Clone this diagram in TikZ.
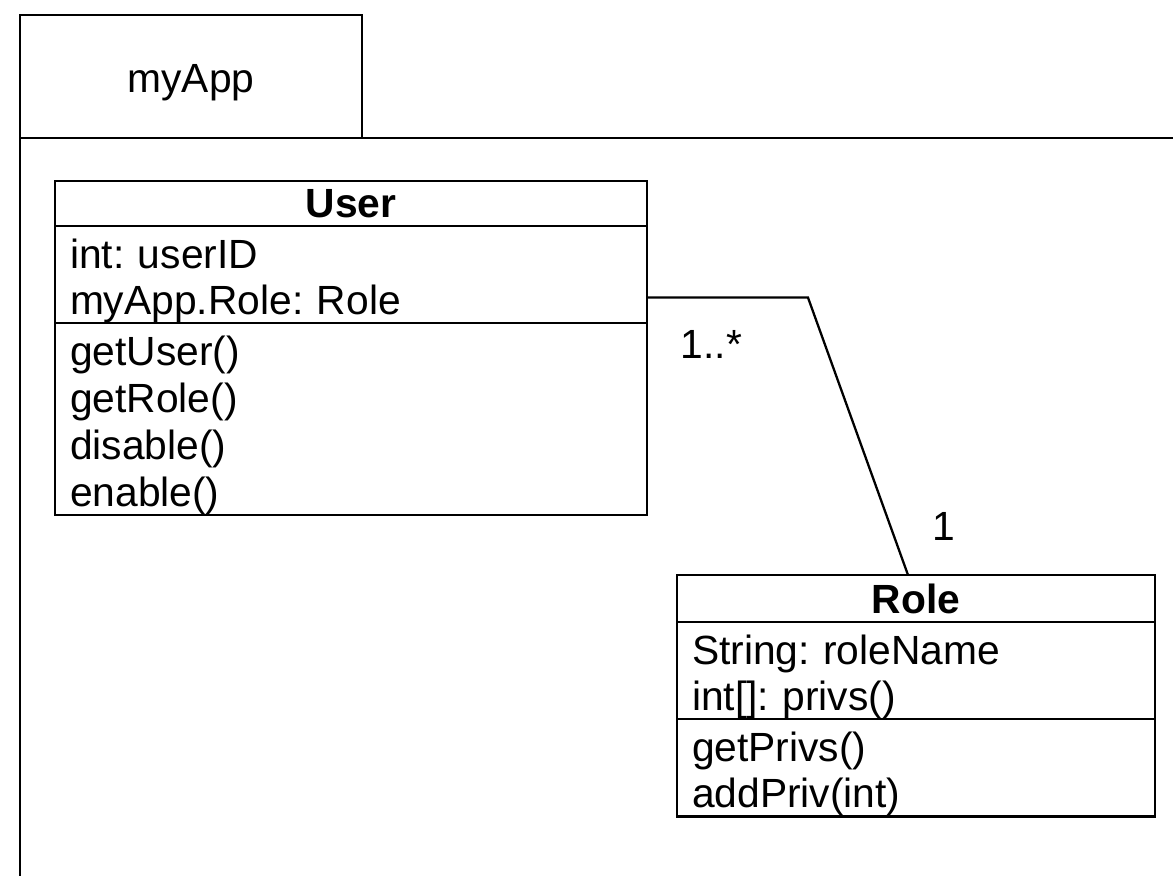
\documentclass[tikz,border=0pt]{standalone}
\usepackage{fontspec}
\setmainfont{Liberation Sans}
\frenchspacing
\usetikzlibrary{positioning}

\begin{document}
\begin{tikzpicture}[line width=1.3pt,
    every node/.style={font=\fontsize{23.2}{26.6}\selectfont},
    umltitle/.style={draw, outer sep=0pt, inner sep=0pt, font=\fontsize{23.2}{26.6}\selectfont\bfseries},
    umlpart/.style={draw, outer sep=0pt, inner ysep=0pt, inner xsep=0.3cm, align=left,
        execute at begin node={\rule{0pt}{0.84cm}}}]
    \useasboundingbox (0,0) rectangle (23.46,-17.52);
    \clip (0,0) rectangle (23.46,-17.52);
    % package
    \node[draw, outer sep=0pt, minimum width=6.84cm, minimum height=2.46cm, text height=0.62cm, text depth=0pt, anchor=north west] (pkgtab) at (0.4,-0.3) {myApp};
    \draw (pkgtab.south west) -- ++(24,0);
    \draw (pkgtab.south west) -- ++(0,-16);
    % class User
    \node[umltitle, minimum width=11.84cm, minimum height=0.9cm, anchor=north west] (usertitle) at (1.1,-3.62) {User};
    \node[umlpart, text width=11.24cm, minimum height=1.92cm, below=0pt of usertitle] (userattr) {int: userID\\myApp.Role: Role};
    \node[umlpart, text width=11.24cm, minimum height=3.84cm, below=0pt of userattr] (usermeth) {getUser()\\getRole()\\disable()\\enable()};
    % class Role
    \node[umltitle, minimum width=9.56cm, minimum height=0.94cm, anchor=north west] (roletitle) at (13.54,-11.5) {Role};
    \node[umlpart, text width=8.96cm, minimum height=1.88cm, below=0pt of roletitle] (roleattr) {String: roleName\\int[]: privs()};
    \node[umlpart, text width=8.96cm, minimum height=1.92cm, below=0pt of roleattr] (rolemeth) {getPrivs()\\addPriv(int)};
    % association
    \draw ([yshift=-0.46cm]userattr.east) -- ++(3.22,0) -- ([xshift=-0.16cm]roletitle.north);
    \node[anchor=base] (multuser) at (14.23,-7.16) {1..*};
    \node[anchor=base] (multrole) at (18.88,-10.8) {1};
\end{tikzpicture}
\end{document}
